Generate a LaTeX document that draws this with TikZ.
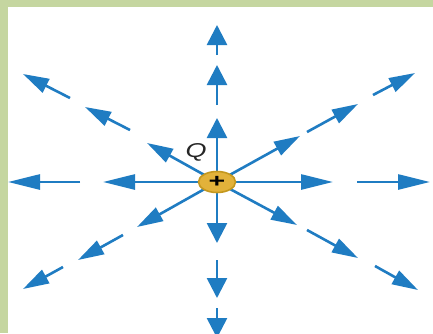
\documentclass[tikz,border=0pt]{standalone}
\usepackage{fontspec}
\setmainfont{Liberation Sans}
\usetikzlibrary{arrows.meta,shapes.geometric}
\definecolor{fblue}{HTML}{1F7CC2}
\definecolor{fgreen}{HTML}{C5D6A0}
\definecolor{qgold}{HTML}{E2B23A}
\definecolor{qedge}{HTML}{C4981E}

\begin{document}
\begin{tikzpicture}[x=1pt, y=-1pt,
  fline/.style={fblue, line width=2.6pt},
  charge/.style={ellipse, fill=qgold, draw=qedge, line width=1.6pt, minimum width=37pt, minimum height=21pt, inner sep=0pt},
  qlabel/.style={font=\fontsize{20}{24}\selectfont\itshape, text=black!85, inner sep=0pt}]
\useasboundingbox (0,0) rectangle (433,333);
\fill[white] (0,0) rectangle (433,333);
\fill[fgreen] (0,0) rectangle (8,333);
\fill[fgreen] (0,0) rectangle (433,7);
\clip (8,7) rectangle (433,333);
\coordinate (o) at (217,182);
% field lines: start / tip / head length / head width
\foreach \n/\ax/\ay/\bx/\by/\hl/\hw in {
  ua/217/182/217/118/20/20, ub/217/105/217/65/20/20, uc/217/55/217/25/20/20,
  da/217/182/217/243/20/20, db/217/260/217/298/20/20, dc/217/308/217/338/20/20,
  la/217/182/103/182/32/15, lb/80/182/8/182/32/15,
  ra/217/182/333/182/32/15, rb/357/182/430/182/32/15,
  nea/217/182/300/136/26/15, neb/307/132/358/104/26/15, nec/373/95/415/73/26/15,
  nwa/217/182/147/143/26/15, nwb/130/130/85/107/26/15, nwc/70/98/23/74/26/15,
  swa/217/182/137/227/26/15, swb/123/235/78/260/26/15, swc/63/267/23/289/26/15,
  sea/217/182/297/225/26/15, seb/307/230/358/258/26/15, sec/375/266/418/290/26/15} {
  \coordinate (\n s) at (\ax,\ay);
  \coordinate (\n e) at (\bx,\by);
  \draw[fline, -{Triangle[length=\hl pt, width=\hw pt]}] (\n s) -- (\n e);
}
\node[charge] (q) at (o) {\scalebox{1.5}[1]{\fontsize{19}{20}\selectfont\bfseries +}};
\node[qlabel] (ql) at (196,152) {\scalebox{1.35}[1]{Q}};
\end{tikzpicture}
\end{document}
